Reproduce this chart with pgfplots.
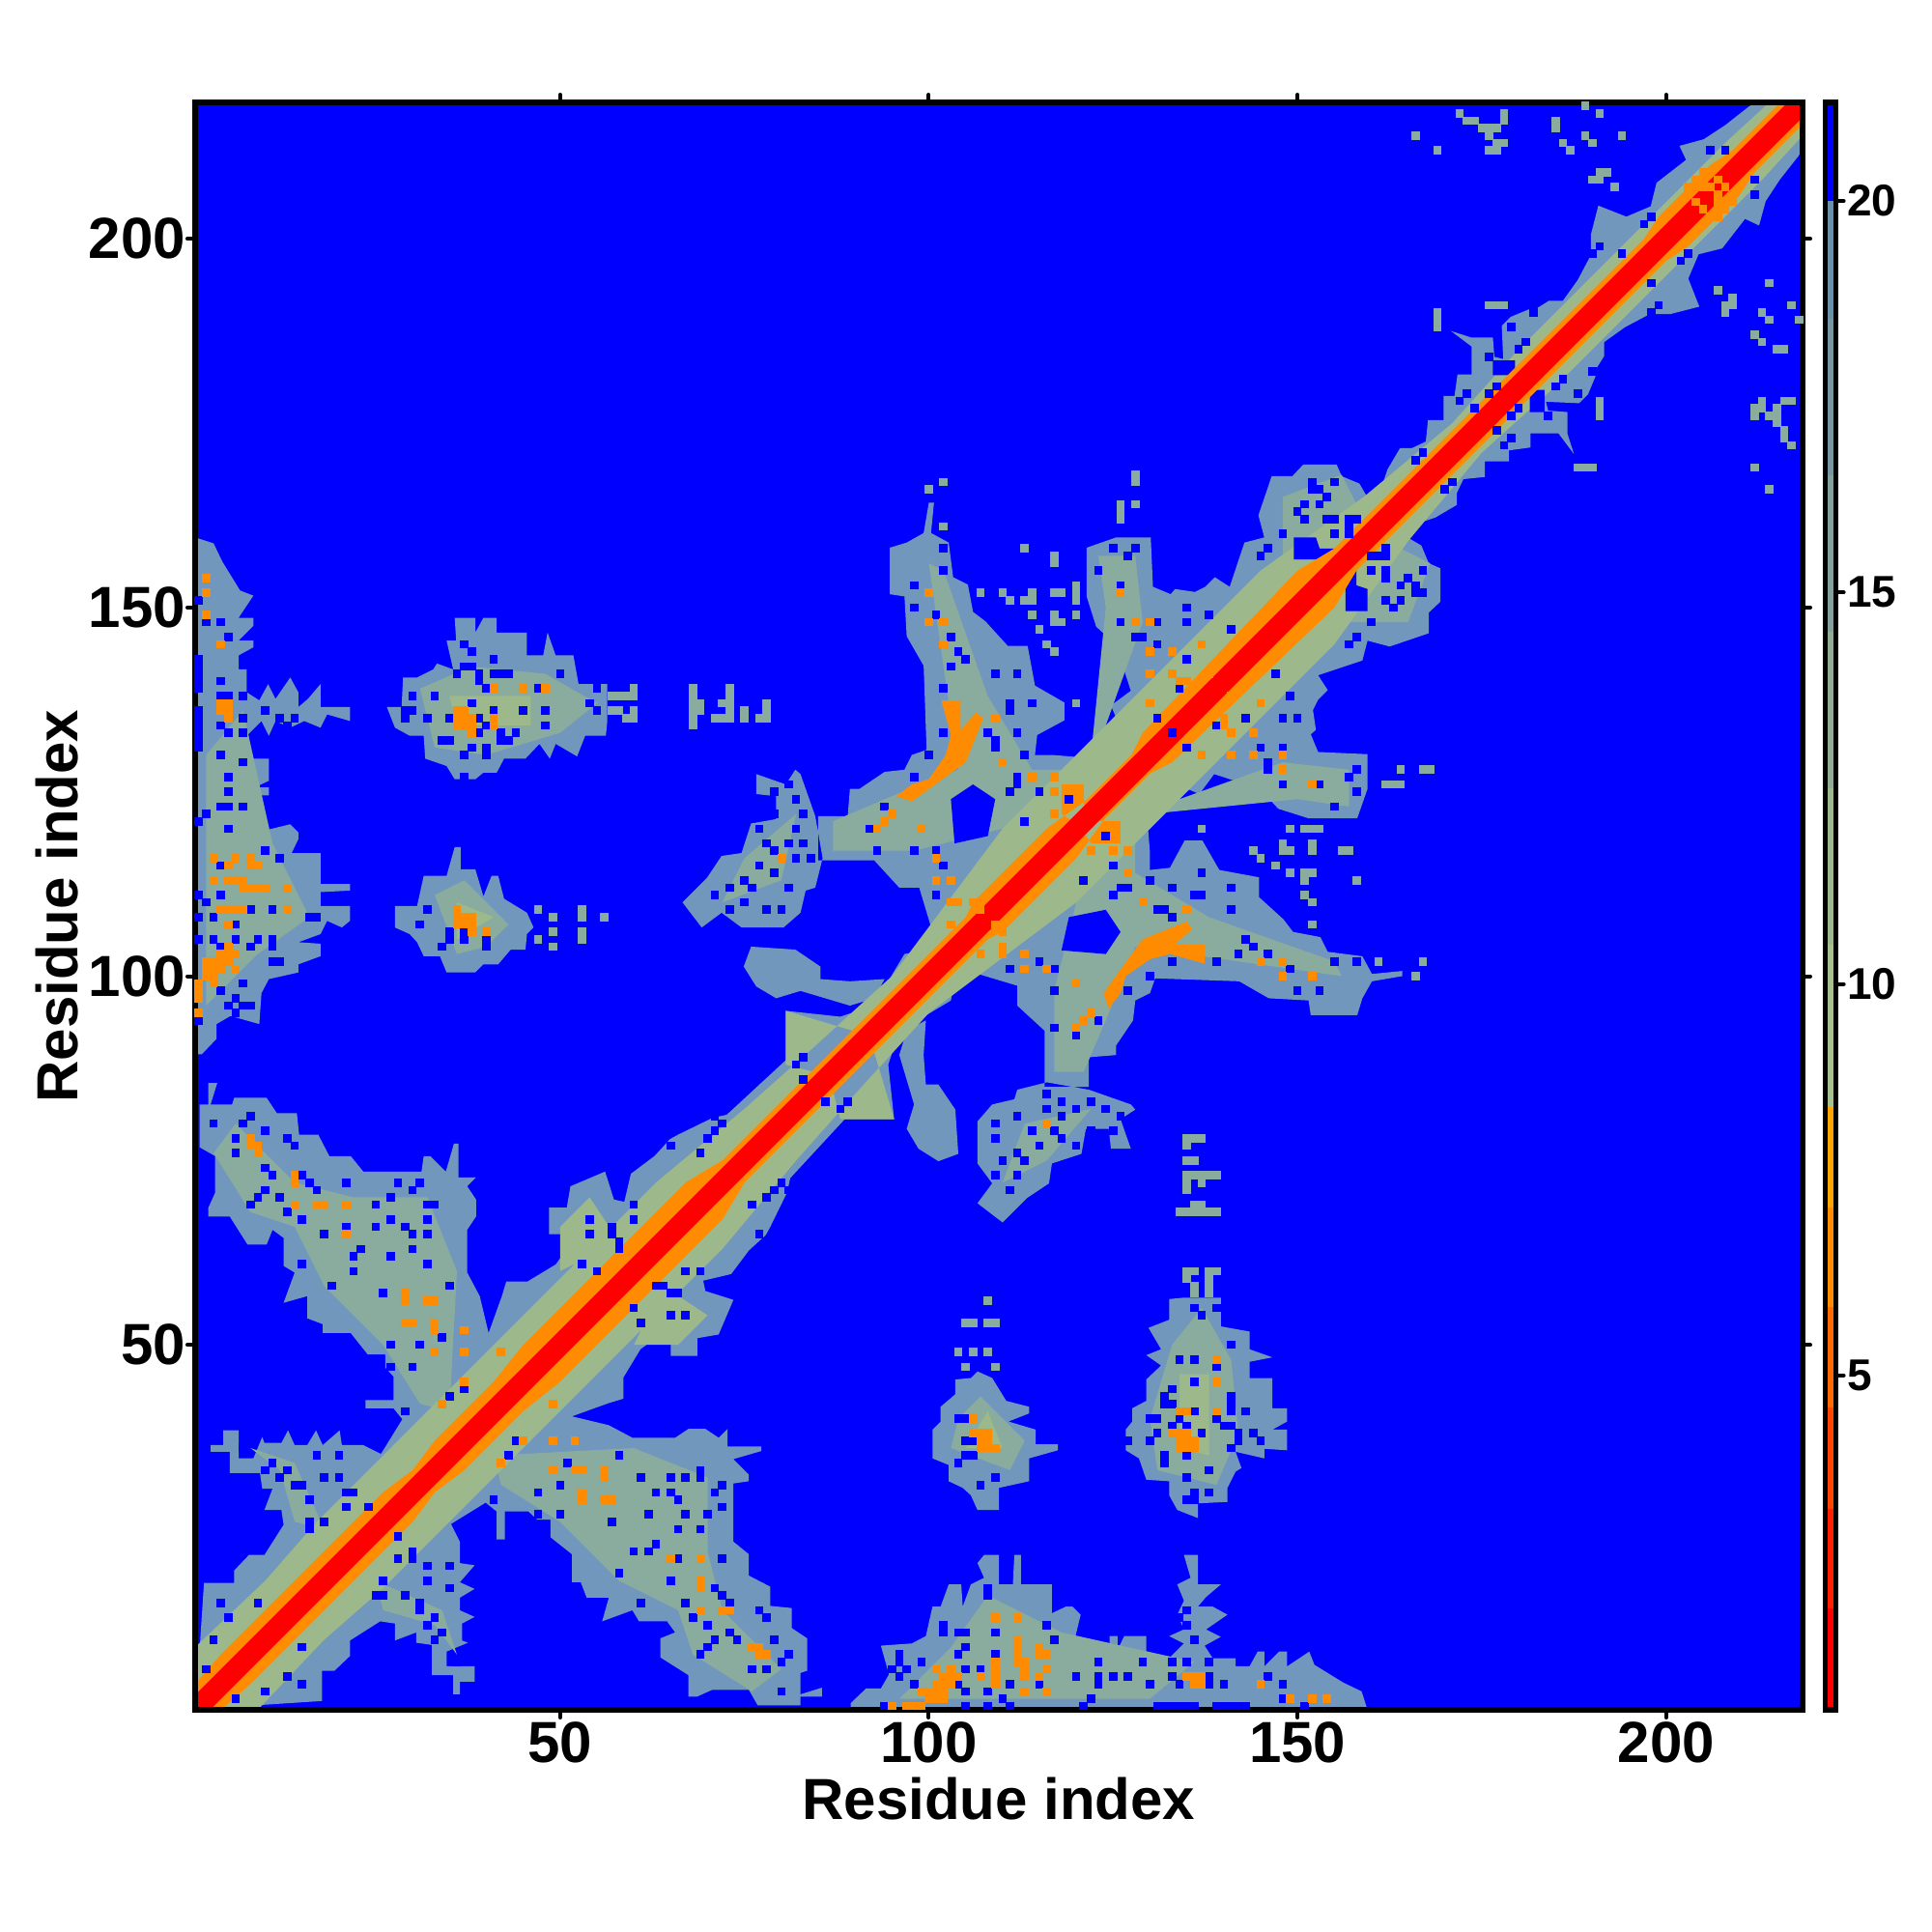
\documentclass[border=0pt]{standalone}
\usepackage{fontspec}
\setmainfont{Liberation Sans}
\usepackage{pgfplots}
\usepackage{pgfplotstable}
\pgfplotsset{compat=1.18}
\definecolor{cblue}{HTML}{0000FF}
\definecolor{cgray}{HTML}{7297BC}
\definecolor{cgreen}{HTML}{9DB98C}
\definecolor{cmid}{HTML}{89AC9F}
\definecolor{cora}{HTML}{FF8C00}
\definecolor{cred}{HTML}{FF0000}

% outlines below the diagonal, the matrix is symmetric so each is drawn twice
\pgfplotstableread{
a b
0.5 0.5
8.6 1.1
17.7 1.7
17.7 5.8
19.4 5.8
21.5 7.8
21.5 9.9
25.6 12.5
27.6 12.2
27.6 9.9
30.5 11
30.5 9.6
32.6 9.3
32.6 5.2
35.5 5.2
35.5 2.6
36.4 2.6
36.4 4.3
38.4 4.3
38.4 6.4
34.6 6.4
34.6 8.4
37.5 9.6
36.7 9.9
36.7 12.2
38.4 13.1
36.4 14
36.4 15.7
38.4 16.9
36.4 17.8
38.4 20.1
36.4 20.4
36.4 23.3
35.2 25.7
39.9 28.6
41.4 27.4
41.4 23.6
42.5 23.6
42.5 27.4
45.7 27.4
46.9 26.3
48.7 26.3
48.7 23.9
51.6 21.6
51.6 17.8
52.8 17.8
53.6 15.7
56.6 15.7
55.7 12.5
59.8 14
60.7 12.5
64.5 12.5
65.6 11
63.6 10.2
63.6 7.6
67.4 5.2
67.4 2.3
68.6 2.3
70.6 3.2
75.6 3.2
76.8 1.1
82.6 1.1
82.6 2.3
85.5 2.3
85.5 3.5
82.6 2.6
82.6 5.5
83.5 5.8
83.5 10.2
81.4 11.6
81.4 14.3
78.5 14.6
78.5 17.2
75.6 18.7
75.6 21.6
73.5 23.3
73.5 31.2
75.6 31.5
75.6 32.4
73.5 34.5
77.3 35.6
77.3 36.2
72.7 36.2
72.7 38.6
71.5 37.4
69.7 38.6
67.4 38.6
65.6 37.4
59.8 37.4
56.6 39.1
51.6 40.3
56.6 42.1
58.6 42.7
58.6 45.6
60.9 49.4
63.6 51.4
65 51.7
65 48.5
68.6 48.5
68.6 50.9
71.5 51.4
73.5 56.1
69.7 57.3
69.4 58.7
73.2 59.6
75.6 62.8
77.9 64.9
78.5 66
80.8 70.7
81.2 72.6
88.6 80.6
95.3 80.6
94.5 88
96 92.5
103 96.7
103.3 98.5
106 100.5
112 98.7
112 96
115.7 92.6
115.7 85
121.7 85
121.7 89
125.4 89.3
125.4 90.6
127.7 94
128 96.7
130 97.7
130.7 99.7
142.1 99.3
146.1 97
151.5 96.7
151.8 94.7
158.1 94.7
158.8 97
160.1 99.3
164.2 100
164.2 100.7
160.1 100.3
158.8 102.7
154.1 103.3
153.1 105.3
149.4 106
148.1 107.7
144.8 110.7
144.8 113.4
139.4 114.4
137.1 118.4
134.7 118.4
132.7 114.7
130 114.4
130 116.7
129.4 124.1
133.4 126.1
136.7 124.7
138.7 127.4
142.7 126.1
146.1 124.1
147.4 122.7
151.5 121.4
158.1 121.4
159.5 125.4
159.5 130.1
152.8 130.4
151.8 132.8
152.5 133.4
152.1 136.1
152.8 137.5
154.1 138.8
152.8 140.8
158.8 142.8
159.5 145.5
162.5 144.7
167.8 146.5
167.8 149.3
169.4 150.8
169.4 155.3
167.8 156
166.8 158.4
164.4 159.8
166.6 161.5
168.7 162.2
171.6 163.9
171.6 165.5
172.5 167.4
175.4 167.7
175.4 169.8
178.7 169.8
178.7 171.3
181.6 171.7
181.6 173.6
185.4 173.6
187.5 170.8
186.6 173.6
186.6 176.5
184 176.7
183.7 177.9
188.2 177.7
189.4 178.9
190.4 181.3
190.4 182.2
191.6 184.1
191.6 186
194.4 188
197.8 189.8
200.6 189.8
204.5 190.8
203 194.6
204.4 197.9
207.6 198.7
210.7 202.7
212.6 201.8
213.5 205.1
215.4 208
218 211.3
218.5 212.5
218.5 218.5
nan nan
89.4 0.5
89.4 1.4
91.5 3.4
93.5 3.4
94.6 5.3
93.5 9.2
97.7 9.5
99.6 10.5
100.5 14.5
101.6 14.5
102.7 17.5
104.4 17.5
104.6 14.5
105.7 17.5
107.5 18.4
106.6 20.4
107.5 21.5
109.5 21.5
109.5 17.5
111.4 17.5
111.6 21.5
112.5 21.5
112.5 17.5
116.7 17.5
116.7 13.6
118.6 14.5
119.5 14.5
120.6 13.4
119.7 9.7
122.6 9.5
122.6 8.4
124.5 8.6
124.5 10.5
125.6 10.5
125.6 8.6
126.5 10.5
127.6 10.5
128.5 10.5
129.5 10.5
129.5 8.4
132.6 7.5
134.6 9.5
132.6 10.5
134.6 11.4
133.7 13.4
134.6 15.3
133.7 17.5
135.5 18.4
134.6 21.5
136.5 21.5
136.5 17.5
139.6 17.5
137.6 15.8
136.5 14.5
138.5 14.5
140.5 13.4
137.6 11.4
139.6 10.4
137.4 9.2
138.5 7.5
141.6 7.5
141.6 6.4
143.5 6.4
144.6 8.4
145.5 8.4
145.5 6.4
147.5 8.4
148.6 8.4
148.6 6.4
151.6 8.4
152.3 6.6
156.2 4.2
158.7 3
159.5 0.5
nan nan
100.5 38.5
100.5 34.6
102.7 33.7
102.7 31.5
104.6 30.6
105.7 29.6
106.6 27.6
109.5 27.6
109.5 30.6
113.6 31.5
113.6 34.6
117.5 35.7
117.5 36.5
114.5 36.5
114.5 38.5
110.8 39.6
113.6 40.7
113.6 41.6
110.5 42.4
108.6 45.5
106.6 46.4
105.7 45.5
103.6 45.3
103.6 43.3
101.6 41.6
101.6 39.6
nan nan
126.7 38.5
126.7 35.7
128.5 34.6
129.5 31.7
132.6 31.5
132.6 29.6
133.7 27.6
136.5 26.5
136.5 28.5
140.5 28.7
140.5 30.6
141.6 32.8
142.4 33.3
141.6 35.5
145.5 34.6
145.5 35.9
148.6 35.7
148.6 38.5
146.6 38.5
148.6 39.6
148.6 41.4
146.6 41.4
146.6 45.5
143.5 45.5
143.5 47.7
146.6 48.3
143.5 49.4
143.5 51.8
139.6 52.5
139.6 56.4
134.6 56.4
132.6 56.2
132.6 53.4
129.8 52.3
131.5 49.4
129.5 48.6
131.5 47.2
129.5 45.3
129.5 42.4
127.6 41.4
127.6 39.6
nan nan
112 84.6
116 85.6
121.7 84.6
127.4 82.6
128 81.9
126 80.6
127.4 76.6
124.7 76.6
124.4 79.3
121.3 79.3
120.7 75.9
116.7 74.6
116.3 71.9
113.3 69.9
110 66.6
106.6 69.2
108.6 71.9
106.6 74.6
106.6 80.3
108.6 82.6
111.6 83.3
nan nan
97 92.6
99.6 94
99.3 89.3
99.6 85.3
101.3 85.3
103.6 81.9
104 75.9
101.3 74.9
98.6 76.6
97 79.3
98 82.6
96 89.3
}\graylayer

% paler core of the masses
\pgfplotstableread{
a b
41 35
60 36
70 32
70 22
72 14
80 6
76 3
68 8
66 14
58 18
50 26
42 31
nan nan
25 18
34 14
36 8
33 12
26 14
nan nan
117 98
117 87
121 87
124 94
128 104
156 100
155 102
138 108
128 114
128 121
122 118
nan nan
130 122
134 124
148 129
157 128
157 123
150 124
nan nan
150 148
165 148
168 156
160 160
152 150
nan nan
131 33
139 31
142 38
141 48
137 55
133 50
130 40
nan nan
103 36
111 33
113 37
107 43
104 40
nan nan
96 2
130 2
136 7
118 11
108 16
103 9
nan nan
110 72
113 80
122 82
116 75
}\midlayer

\pgfplotstableread{
a b
0.5 0.5
9 0.5
18 10
26 17
36 27
44 35
54 45
62 53
72 63
82 75
90 84
100 95
108 101
120 110
132 122
145 135
155 145
165 159
175 171
185 180
195 190
205 200
213 208
218.5 214
218.5 218.5
nan nan
87 84.5
92.5 90
95.3 80.6
88 80.6
nan nan
60 50
66 50
70 54
64 58
nan nan
134 36
138 35
138 46
134 46
nan nan
105 36
110 36
108 41
}\greenlayer

% blue holes inside the masses
\pgfplotstableread{
a b
118 103.5
124 103
126 106
124 109
119 108
nan nan
156.5 149.5
159.5 149.5
159.5 152.5
158 153
158 155
156.5 155
nan nan
181.5 176.5
183.5 176.5
183.5 179.5
181.5 179.5
}\holes

% orange band edge, wider along the helices
\pgfplotstableread{
a b
0.5 0.5
4 0.5
8 4
30 26
33 30
37 33
45 41
50 45
72 67
75 72
108 105
110 106
120 116
124 121.5
130 127.5
133 129
155 150
158 155
200 197
203 199
210 206
212 209
218.5 215.5
218.5 218.5
nan nan
123.7 97.7
129 105
135 107.4
135.7 106.4
133.4 104.3
137.4 104.3
137.4 101.7
132.7 103
130 102.3
126.7 100
126 97.7
124.4 95.6
nan nan
120 121
126 121
126 118
122 118
}\orangelayer

\pgfplotstableread{
a b
0.5 0.5
2.5 0.5
218.5 216.5
218.5 218.5
216.5 218.5
0.5 2.5
}\redlayer

\pgfplotstableread{
a b
61 32
58 35
51 34
47 30
50 31
43 35
44 37
65 32
67 32
69 32
65 30
63 30
66 29
69 33
72 31
71 30
72 28
62 27
67 27
70 27
57 26
66 25
69 25
63 23
60 22
62 22
66 21
72 21
65 18
58 19
71 17
72 16
73 15
67 15
61 15
77 14
68 13
78 13
70 12
73 11
71 10
74 10
79 10
70 9
69 8
81 8
78 6
80 7
76 6
80 3
47 27
50 27
41 29
63 58
65 57
66 57
60 55
65 54
67 54
61 53
67 60
69 60
64 58
76 69
81 71
79 71
77 65
86 83
89 83
88 82
72 80
69 76
70 78
28 24
30 22
30 21
28 21
32 20
35 20
26 18
26 16
25 16
29 16
31 15
32 18
35 17
31 14
33 13
32 12
34 11
33 10
36 7
15 9
13 5
6 2
10 3
15 4
116 84
118 83
122 83
124 82
126 81
116 82
112 81
120 82
118 81
114 79
117 79
109 80
109 78
115 77
112 76
120 77
110 75
113 75
112 73
109 73
111 71
118 78
125 79
122 79
120 92
117 93
123 94
121 94
115 102
111 101
117 98
117 101
127 98
130 100
133 102
142 103
146 103
149 101
150 98
153 98
158 102
155 102
136 111
137 111
141 109
143 105
144 104
139 102
133 108
131 109
132 109
123 108
125 111
126 112
127 112
130 113
133 112
137 114
141 112
121 113
124 119
125 115
146 129
148 131
145 131
146 128
153 126
158 128
158 125
157 127
155 123
148 126
135 131
143 135
148 135
150 135
139 134
131 135
133 133
149 138
147 141
134 139
158 146
157 145
165 154
163 150
161 157
162 158
162 157
160 157
160 155
162 155
162 154
165 154
167 155
164 153
166 153
166 152
167 152
162 151
164 151
160 148
212 208
212 206
203 198
202 197
198 194
199 191
198 190
190 182
186 181
185 180
188 179
180 177
179 176
184 176
177 174
179 173
178 172
171 167
170 166
136 55
139 55
137 54
141 50
134 48
136 48
139 47
136 45
133 44
132 43
132 42
133 42
141 43
141 42
136 41
141 41
143 41
139 40
131 40
130 40
134 40
133 39
135 39
140 39
141 39
131 38
137 38
142 38
144 38
130 37
127 37
142 37
145 37
141 36
135 35
132 35
132 34
138 33
135 32
138 30
136 30
136 29
135 29
104 40
105 40
105 37
106 37
105 35
106 35
104 34
109 32
107 31
108 17
108 16
116 12
109 11
102 12
102 11
104 11
105 11
117 10
105 9
96 8
104 8
109 8
99 7
96 7
95 6
97 6
105 6
107 6
96 5
98 4
104 4
111 4
115 4
105 3
108 3
110 2
122 2
121 1
105 1
108 1
111 1
94 1
120 5
123 5
123 4
125 5
127 5
130 4
129 7
123 7
133 7
135 7
138 7
133 5
134 4
138 5
138 4
140 4
146 5
148 4
148 2
151 1
136 10
135 12
134 13
135 14
131 1
132 1
133 1
134 1
135 1
136 1
139 1
140 1
141 1
142 1
143 1
}\bluecells

\pgfplotstableread{
a b
42 34
45 37
49 37
52 37
49 33
52 33
53 33
56 33
56 32
53 30
53 29
56 29
57 29
65 21
69 21
69 18
69 17
69 14
72 14
73 14
76 9
77 9
77 8
78 8
49 42
116 80
120 93
121 94
122 95
141 138
145 137
140 135
140 134
141 133
144 133
137 130
141 130
144 130
148 130
148 128
152 126
122 117
125 117
127 117
127 114
129 110
135 109
145 102
148 102
148 100
152 100
116 101
120 99
113 101
113 103
110 103
107 103
110 106
110 104
103 107
109 107
205 207
206 207
207 208
204 205
206 203
207 203
208 204
209 205
109 13
112 13
112 10
112 9
112 8
112 7
109 7
109 6
109 5
113 7
113 6
113 5
115 9
115 8
116 8
116 6
107 5
113 3
116 3
101 6
103 6
102 5
103 5
104 5
101 4
102 4
103 4
99 3
100 3
101 3
102 3
100 2
101 2
102 2
95 1
97 1
98 1
99 1
135 5
136 5
137 5
137 4
145 4
149 2
152 2
154 2
136 4
115 5
109 4
106 40
106 38
107 38
108 38
107 37
108 37
107 36
108 36
109 36
139 48
139 45
134 41
135 41
139 41
133 38
134 38
135 38
134 37
135 37
136 37
134 36
135 36
136 36
}\orangecells

% loose cells away from the masses
\pgfplotstableread{
a b
172 217
173 216
174 216
175 215
176 215
177 215
178 217
178 216
176 214
177 213
178 213
176 212
177 212
166 214
169 212
185 216
185 215
186 213
187 212
189 214
190 213
194 214
189 218
191 217
190 208
191 209
192 209
191 208
193 207
214 194
207 193
209 192
209 191
208 190
217 191
213 190
214 189
218 189
212 187
213 186
215 185
216 185
213 178
212 177
212 176
213 177
214 176
215 177
215 175
216 178
217 178
216 174
216 173
217 172
212 169
214 166
191 178
191 177
191 176
188 169
189 169
190 169
169 190
169 189
177 191
178 191
135 78
136 78
137 78
135 77
135 75
136 75
135 73
136 73
137 73
138 73
139 73
135 72
137 72
135 71
136 69
137 69
134 68
135 68
136 68
137 68
138 68
139 68
108 56
106 53
105 53
108 53
109 53
104 49
106 49
108 49
105 47
109 47
164 128
167 128
168 128
162 126
163 126
164 126
161 102
167 102
166 100
136 57
136 58
135 59
135 60
136 60
138 57
138 58
138 59
138 60
139 60
149 120
151 120
152 120
153 120
137 120
148 118
152 118
144 117
148 117
149 117
152 117
156 117
157 117
151 114
152 114
149 114
147 115
145 116
158 113
151 113
151 111
152 110
152 107
}\graycells

\newcommand{\both}[2]{%
  \addplot[#1] table[x=a,y=b]{#2};
  \addplot[#1] table[x=b,y=a]{#2};}

\begin{document}
\begin{tikzpicture}
\useasboundingbox (-50.5pt,-57.5pt) rectangle (449.5pt,442.5pt);
\begin{axis}[
    scale only axis,
    width=416pt, height=416pt,
    xmin=0.5, xmax=218.5, ymin=0.5, ymax=218.5,
    xtick={50,100,150,200}, ytick={50,100,150,200},
    axis on top,
    axis background/.style={fill=cblue},
    axis line style={line width=1.3pt, line cap=round},
    tick align=outside,
    major tick length=2pt,
    tick style={black, line width=1pt, line cap=round},
    /pgf/number format/assume math mode=true,
    tick label style={font=\fontsize{15}{15}\selectfont\bfseries},
    xticklabel style={yshift=2.3pt},
    yticklabel style={xshift=3pt},
    xlabel={Residue index},
    ylabel={Residue index},
    label style={font=\fontsize{15}{15}\selectfont\bfseries},
    xlabel style={at={(axis description cs:0.5,0)}, anchor=center, yshift=-23pt},
    ylabel style={at={(axis description cs:0,0.5)}, anchor=center, rotate=0, yshift=35.75pt},
    unbounded coords=jump,
    cell/.style={only marks, mark=square*, mark size=0.954pt, color=#1, mark options={draw=#1, fill=#1, line width=0pt}},
]
\both{fill=cgray, draw=none}{\graylayer}
\both{cell=cmid}{\graycells}
\both{fill=cmid, draw=none}{\midlayer}
\both{fill=cgreen, draw=none}{\greenlayer}
\both{fill=cblue, draw=none}{\holes}
\both{cell=cblue}{\bluecells}
\both{cell=cora}{\orangecells}
\both{fill=cora, draw=none}{\orangelayer}
\addplot[fill=cred, draw=none] table[x=a,y=b]{\redlayer};
\end{axis}
\begin{axis}[
    at={(421.9pt,0pt)},
    scale only axis,
    width=2.75pt, height=416pt,
    xmin=0, xmax=1, ymin=0.73, ymax=21.26,
    xtick=\empty, ytick={5,10,15,20},
    ytick pos=right,
    axis on top,
    axis line style={line width=1.3pt, line cap=round},
    tick align=outside,
    major tick length=2pt,
    tick style={black, line width=1pt, line cap=round},
    /pgf/number format/assume math mode=true,
    yticklabel pos=right,
    tick label style={font=\fontsize{11.5}{11.5}\selectfont\bfseries},
    yticklabel style={xshift=-2.6pt},
]
\addplot[fill=red, draw=none] coordinates {(0,0.73) (1,0.73) (1,2.03) (0,2.03)};
\addplot[fill={rgb,255:red,255;green,32;blue,0}, draw=none] coordinates {(0,2.03) (1,2.03) (1,3.30) (0,3.30)};
\addplot[fill={rgb,255:red,255;green,69;blue,0}, draw=none] coordinates {(0,3.30) (1,3.30) (1,4.59) (0,4.59)};
\addplot[fill={rgb,255:red,255;green,106;blue,0}, draw=none] coordinates {(0,4.59) (1,4.59) (1,5.87) (0,5.87)};
\addplot[fill={rgb,255:red,255;green,140;blue,0}, draw=none] coordinates {(0,5.87) (1,5.87) (1,7.15) (0,7.15)};
\addplot[fill={rgb,255:red,255;green,165;blue,0}, draw=none] coordinates {(0,7.15) (1,7.15) (1,8.43) (0,8.43)};
\addplot[fill={rgb,255:red,168;green,192;blue,144}, draw=none] coordinates {(0,8.43) (1,8.43) (1,10.5) (0,10.5)};
\addplot[fill={rgb,255:red,157;green,185;blue,140}, draw=none] coordinates {(0,10.5) (1,10.5) (1,12.5) (0,12.5)};
\addplot[fill={rgb,255:red,144;green,172;blue,148}, draw=none] coordinates {(0,12.5) (1,12.5) (1,14.5) (0,14.5)};
\addplot[fill={rgb,255:red,130;green,160;blue,156}, draw=none] coordinates {(0,14.5) (1,14.5) (1,16.5) (0,16.5)};
\addplot[fill={rgb,255:red,118;green,150;blue,164}, draw=none] coordinates {(0,16.5) (1,16.5) (1,18.5) (0,18.5)};
\addplot[fill={rgb,255:red,107;green,144;blue,170}, draw=none] coordinates {(0,18.5) (1,18.5) (1,20) (0,20)};
\addplot[fill=cblue, draw=none] coordinates {(0,20) (1,20) (1,21.26) (0,21.26)};
\end{axis}
\end{tikzpicture}
\end{document}
